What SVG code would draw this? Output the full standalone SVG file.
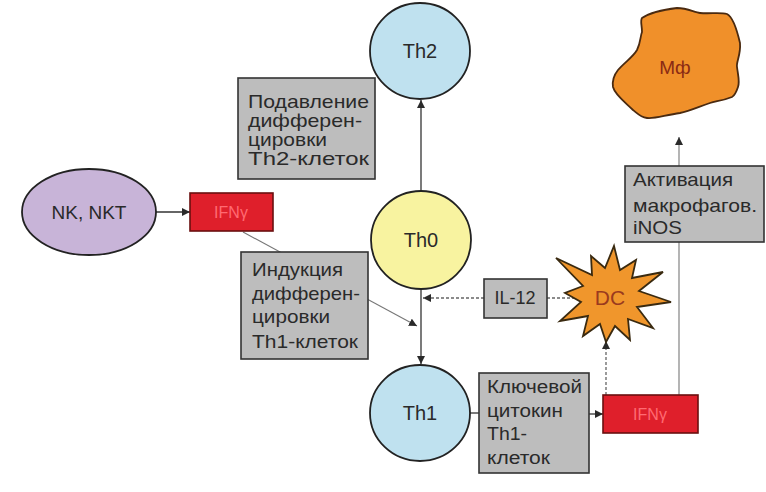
<svg xmlns="http://www.w3.org/2000/svg" width="766" height="492" viewBox="0 0 766 492">
<defs>
<marker id="ah" viewBox="0 0 10 10" refX="10" refY="5" markerWidth="8" markerHeight="8" markerUnits="userSpaceOnUse" orient="auto"><path d="M0,0 L10,5 L0,10 z" fill="#2a2a2a"/></marker>
</defs>
<style>
text{font-family:"Liberation Sans",Arial,sans-serif;fill:#2a2a2a;}
.c{text-anchor:middle;dominant-baseline:central;}
.box{fill:#bdbdbd;stroke:#333;stroke-width:1.6;}
.red{fill:#df1f2b;stroke:#6a1010;stroke-width:1.6;}
.redt{fill:#ff6a72;font-size:16px;}
.cell{stroke:#222;stroke-width:1.8;}
.lbl{font-size:18px;}
.th{font-size:20px;}
.bt{font-size:19px;}
.ln{stroke:#333;stroke-width:1.3;fill:none;}
.dl{stroke:#666;stroke-width:1.3;fill:none;stroke-dasharray:3,2;}
.gl{stroke:#777;stroke-width:1.1;fill:none;}
</style>
<rect width="766" height="492" fill="#fff"/>
<g id="connectors">
<line class="ln" x1="156" y1="212" x2="190" y2="212" marker-end="url(#ah)"/>
<line class="gl" x1="243" y1="232" x2="417" y2="326" marker-end="url(#ah)"/>
<line class="ln" x1="421" y1="190" x2="421" y2="100" marker-end="url(#ah)"/>
<line class="ln" x1="421" y1="290" x2="421" y2="364" marker-end="url(#ah)"/>
<line class="dl" x1="484" y1="298" x2="423" y2="298" marker-end="url(#ah)"/>
<line class="dl" x1="547" y1="298" x2="578" y2="298"/>
<line class="dl" x1="606" y1="395" x2="606" y2="341" marker-end="url(#ah)"/>
<line class="gl" x1="679" y1="395" x2="679" y2="242"/>
<line class="gl" x1="679" y1="166" x2="679" y2="137" marker-end="url(#ah)"/>
<line class="ln" x1="470" y1="413" x2="479" y2="413"/>
<line class="ln" x1="589" y1="414" x2="603" y2="414" marker-end="url(#ah)"/>
</g>
<g id="nk">
<ellipse class="cell" cx="89" cy="212" rx="67" ry="43" fill="#c8b4d8"/>
<text class="c" x="89" y="212" font-size="19">NK, NKT</text>
</g>
<g id="ifng1">
<rect class="red" x="190" y="193" width="83" height="38"/>
<text class="c redt" x="231" y="212">IFNγ</text>
</g>
<g id="th2">
<ellipse class="cell" cx="420" cy="51" rx="50" ry="48" fill="#bfe1ef"/>
<text class="c th" x="420" y="51">Th2</text>
</g>
<g id="th0">
<ellipse class="cell" cx="421" cy="240" rx="50" ry="49" fill="#f8f3a0"/>
<text class="c th" x="421" y="240">Th0</text>
</g>
<g id="th1">
<ellipse class="cell" cx="420" cy="413" rx="50" ry="48" fill="#bfe1ef"/>
<text class="c th" x="420" y="413">Th1</text>
</g>
<g id="suppress">
<rect class="box" x="238" y="78" width="137" height="101"/>
<text class="bt" x="248" y="108" textLength="121" lengthAdjust="spacingAndGlyphs">Подавление</text>
<text class="bt" x="248" y="127" textLength="114" lengthAdjust="spacingAndGlyphs">дифферен-</text>
<text class="bt" x="248" y="146" textLength="79" lengthAdjust="spacingAndGlyphs">цировки</text>
<text class="bt" x="248" y="165" textLength="121" lengthAdjust="spacingAndGlyphs">Th2-клеток</text>
</g>
<g id="induce">
<rect class="box" x="241" y="252" width="127" height="107"/>
<text class="bt" x="252" y="276" textLength="91" lengthAdjust="spacingAndGlyphs">Индукция</text>
<text class="bt" x="252" y="300" textLength="108" lengthAdjust="spacingAndGlyphs">дифферен-</text>
<text class="bt" x="252" y="323" textLength="78" lengthAdjust="spacingAndGlyphs">цировки</text>
<text class="bt" x="252" y="348" textLength="106" lengthAdjust="spacingAndGlyphs">Th1-клеток</text>
</g>
<g id="il12">
<rect class="box" x="484" y="279" width="63" height="39"/>
<text class="c lbl" x="515" y="298">IL-12</text>
</g>
<g id="dc">
<polygon fill="#f0962c" stroke="#3a2a10" stroke-width="1.8" stroke-linejoin="miter" points="556,258 592,275 591,256 605,268 614,246 620,270 636,260 632,278 663,272 639,291 671,302 637,307 653,328 628,319 630,340 615,326 606,342 600,324 583,336 588,316 560,321 581,302 565,293 583,286"/>
<text class="c" x="610" y="297" font-size="21" style="fill:#9a3a1e">DC</text>
</g>
<g id="key">
<rect class="box" x="479" y="373" width="110" height="100"/>
<text class="lbl" x="487" y="393" textLength="95" lengthAdjust="spacingAndGlyphs">Ключевой</text>
<text class="lbl" x="487" y="417" textLength="76" lengthAdjust="spacingAndGlyphs">цитокин</text>
<text class="lbl" x="487" y="440" textLength="40" lengthAdjust="spacingAndGlyphs">Th1-</text>
<text class="lbl" x="487" y="464" textLength="63" lengthAdjust="spacingAndGlyphs">клеток</text>
</g>
<g id="ifng2">
<rect class="red" x="603" y="395" width="95" height="38"/>
<text class="c redt" x="650" y="414">IFNγ</text>
</g>
<g id="activ">
<rect class="box" x="625" y="166" width="139" height="76"/>
<text class="bt" x="633" y="186" textLength="100" lengthAdjust="spacingAndGlyphs">Активация</text>
<text class="bt" x="633" y="212" textLength="124" lengthAdjust="spacingAndGlyphs">макрофагов.</text>
<text class="bt" x="633" y="234" textLength="49" lengthAdjust="spacingAndGlyphs">iNOS</text>
</g>
<g id="mf">
<path fill="#f0902a" stroke="#4a2a10" stroke-width="1.8" d="M642,18 C648,14 660,10 677,8 C688,8 695,13 700,13 C710,14 720,12 727,14 C733,17 737,30 740,43 C741,55 736,62 737,67 C738,75 740,82 738,87 C736,93 734,96 732,97 C722,101 716,101 710,103 C698,107 690,111 680,113 C665,115 655,119 647,118 C640,117 637,113 633,110 C625,102 615,95 613,87 C612,80 614,75 618,70 C625,62 633,57 637,50 C641,42 640,37 642,32 C642,25 640,21 642,18 Z"/>
<text class="c" x="675" y="67" font-size="19" style="fill:#8a2a14">Мф</text>
</g>
</svg>
